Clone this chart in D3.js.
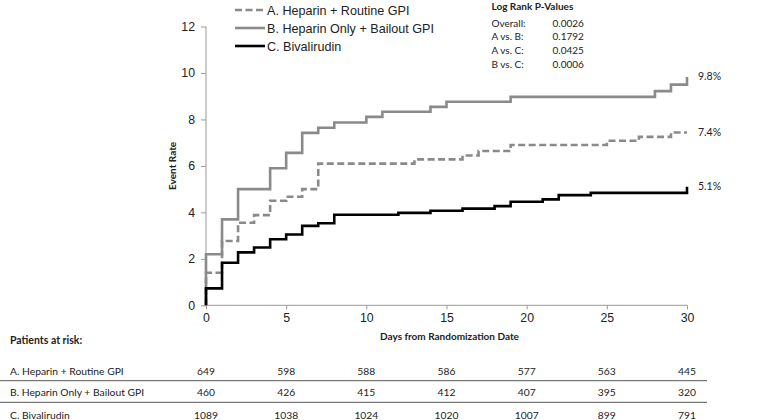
<!DOCTYPE html>
<html>
<head>
<meta charset="utf-8">
<script src="https://cdn.jsdelivr.net/npm/d3@7"></script>
<style>
  html, body { margin: 0; padding: 0; background: #fff; }
  svg { display: block; }
</style>
</head>
<body>
<svg id="chart" width="784" height="420"></svg>
<script>
// ---------- data ----------
const seriesNames = ["A. Heparin + Routine GPI", "B. Heparin Only + Bailout GPI", "C. Bivalirudin"];
const daysA = [0, 1, 2, 3, 4, 5, 6, 7, 13, 16, 17, 19, 25, 27, 29, 30];
const rateA = [1.4, 2.77, 3.55, 3.88, 4.5, 4.67, 5.0, 6.1, 6.28, 6.45, 6.64, 6.9, 7.08, 7.25, 7.44, 7.44];
const daysB = [0, 1, 2, 4, 5, 6, 7, 8, 10, 11, 14, 15, 19, 28, 29, 30];
const rateB = [2.2, 3.7, 5.0, 5.9, 6.56, 7.42, 7.64, 7.87, 8.11, 8.33, 8.54, 8.76, 8.97, 9.22, 9.5, 9.83];
const daysC = [0, 1, 2, 3, 4, 5, 6, 7, 8, 12, 14, 16, 18, 19, 21, 22, 24, 30];
const rateC = [0.73, 1.83, 2.28, 2.49, 2.84, 3.05, 3.42, 3.53, 3.9, 3.98, 4.07, 4.16, 4.27, 4.46, 4.56, 4.74, 4.84, 5.1];
const endLabels = ["7.4%", "9.8%", "5.1%"];
const xTicks = [0, 5, 10, 15, 20, 25, 30];
const yTicks = [0, 2, 4, 6, 8, 10, 12];
const pLabels = ["Overall:", "A vs. B:", "A vs. C:", "B vs. C:"];
const pValues = ["0.0026", "0.1792", "0.0425", "0.0006"];
const riskA = [649, 598, 588, 586, 577, 563, 445];
const riskB = [460, 426, 415, 412, 407, 395, 320];
const riskC = [1089, 1038, 1024, 1020, 1007, 899, 791];

// ---------- layout ----------
const svg = d3.select("#chart");
const x = d3.scaleLinear().domain([0, 30]).range([206, 687]);
const y = d3.scaleLinear().domain([0, 12]).range([305.3, 26.5]);
const arial = "'Liberation Sans', Arial, sans-serif";
const cal = "Lato, 'Open Sans', sans-serif";
const gray = "#8a8a8a";
const axisGray = "#9a9a9a";

// axes
const yAxis = svg.append("g").attr("transform", `translate(${x(0)},0)`)
  .call(d3.axisLeft(y).tickValues(yTicks).tickSize(5).tickPadding(6).tickFormat(d3.format("d")));
const xAxis = svg.append("g").attr("transform", `translate(0,${y(0)})`)
  .call(d3.axisBottom(x).tickValues(xTicks).tickSize(4).tickPadding(4).tickFormat(d3.format("d")));
[yAxis, xAxis].forEach(g => {
  g.selectAll("path, line").attr("stroke", axisGray).attr("stroke-width", 1);
  g.selectAll("text").attr("font-family", arial).attr("font-size", 12.3).attr("fill", "#222");
});
xAxis.select(".domain").attr("d", `M${x(0)},0H${x(30)}`);
yAxis.select(".domain").attr("d", `M0,${y(12)}V${y(0)}`);

// axis titles
svg.append("text").attr("transform", `translate(176,${y(6)}) rotate(-90)`)
  .attr("text-anchor", "middle").attr("font-family", cal).attr("font-weight", "bold")
  .attr("font-size", 10).attr("fill", "#222").text("Event Rate");
svg.append("text").attr("x", 449.5).attr("y", 339.5)
  .attr("text-anchor", "middle").attr("font-family", cal).attr("font-weight", "bold")
  .attr("font-size", 10).attr("fill", "#222").text("Days from Randomization Date");

// step lines
const line = d3.line().x(d => x(d[0])).y(d => y(d[1])).curve(d3.curveStepAfter);
const seriesData = [
  { days: daysA, rate: rateA, color: gray, dash: "7,3.5" },
  { days: daysB, rate: rateB, color: gray, dash: null },
  { days: daysC, rate: rateC, color: "#000", dash: null }
];
seriesData.forEach(s => {
  const pts = [[0, 0]].concat(s.days.map((d, i) => [d, s.rate[i]]));
  svg.append("path").attr("d", line(pts)).attr("fill", "none")
    .attr("stroke", s.color).attr("stroke-width", 2.6)
    .attr("stroke-dasharray", s.dash);
});

// end labels
seriesData.forEach((s, i) => {
  svg.append("text").attr("x", 698).attr("y", y(s.rate[s.rate.length - 1]) + 3.5)
    .attr("font-family", cal).attr("font-size", 10.5).attr("fill", "#222").text(endLabels[i]);
});

// legend
seriesNames.forEach((name, i) => {
  const ly = 10 + i * 18;
  svg.append("line").attr("x1", 235).attr("x2", 265).attr("y1", ly).attr("y2", ly)
    .attr("stroke", seriesData[i].color).attr("stroke-width", 2.6)
    .attr("stroke-dasharray", seriesData[i].dash ? "7,3.5" : null);
  svg.append("text").attr("x", 267).attr("y", ly + 4.6)
    .attr("font-family", arial).attr("font-size", 12.6).attr("fill", "#222").text(name);
});

// p-values
svg.append("text").attr("x", 491.5).attr("y", 9.5).attr("font-family", cal)
  .attr("font-weight", "bold").attr("font-size", 10).attr("fill", "#222").text("Log Rank P-Values");
pLabels.forEach((lab, i) => {
  const py = 26.5 + i * 13.7;
  svg.append("text").attr("x", 491.5).attr("y", py).attr("font-family", cal)
    .attr("font-size", 10).attr("fill", "#222").text(lab);
  svg.append("text").attr("x", 552.5).attr("y", py).attr("font-family", cal)
    .attr("font-size", 10).attr("fill", "#222").text(pValues[i]);
});

// risk table
svg.append("text").attr("x", 10).attr("y", 344).attr("font-family", cal)
  .attr("font-weight", "bold").attr("font-size", 10.5).attr("fill", "#222").text("Patients at risk:");
const riskRows = [riskA, riskB, riskC];
const rowY = [374.5, 395.5, 418.5];
riskRows.forEach((row, r) => {
  svg.append("text").attr("x", 10).attr("y", rowY[r]).attr("font-family", cal)
    .attr("font-size", 10.3).attr("fill", "#222").text(seriesNames[r]);
  row.forEach((v, i) => {
    svg.append("text").attr("x", x(xTicks[i])).attr("y", rowY[r]).attr("text-anchor", "middle")
      .attr("font-family", cal).attr("font-size", 10.3).attr("fill", "#222").text(v);
  });
});
[380.7, 402.3].forEach(ly => {
  svg.append("line").attr("x1", 0).attr("x2", 707).attr("y1", ly).attr("y2", ly)
    .attr("stroke", "#555").attr("stroke-width", 1);
});
</script>
</body>
</html>
